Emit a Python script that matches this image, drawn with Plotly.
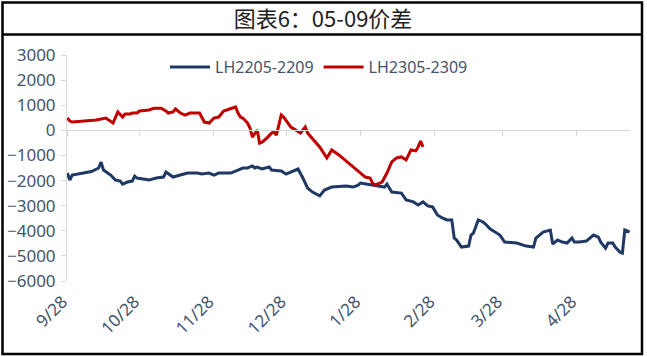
import plotly.graph_objects as go
import pandas as pd

# ---------------- data ----------------
blue_name = "LH2205-2209"
blue_dates = [
    "2021-09-28", "2021-09-29", "2021-09-30", "2021-10-08", "2021-10-11", "2021-10-12",
    "2021-10-13", "2021-10-16", "2021-10-18", "2021-10-20", "2021-10-21", "2021-10-23",
    "2021-10-25", "2021-10-26", "2021-10-27", "2021-10-30", "2021-11-01", "2021-11-04",
    "2021-11-07", "2021-11-08", "2021-11-10", "2021-11-11", "2021-11-14", "2021-11-17",
    "2021-11-21", "2021-11-23", "2021-11-26", "2021-11-28", "2021-11-30", "2021-12-05",
    "2021-12-08", "2021-12-10", "2021-12-12", "2021-12-14", "2021-12-15", "2021-12-16",
    "2021-12-18", "2021-12-21", "2021-12-22", "2021-12-26", "2021-12-28", "2021-12-30",
    "2022-01-02", "2022-01-04", "2022-01-06", "2022-01-08", "2022-01-11", "2022-01-13",
    "2022-01-16", "2022-01-22", "2022-01-25", "2022-01-27", "2022-01-28", "2022-02-07",
    "2022-02-08", "2022-02-10", "2022-02-14", "2022-02-16", "2022-02-19", "2022-02-21",
    "2022-02-23", "2022-02-25", "2022-02-27", "2022-03-01", "2022-03-03", "2022-03-05",
    "2022-03-07", "2022-03-08", "2022-03-09", "2022-03-11", "2022-03-14", "2022-03-15",
    "2022-03-16", "2022-03-18", "2022-03-20", "2022-03-21", "2022-03-23", "2022-03-25",
    "2022-03-27", "2022-03-29", "2022-04-01", "2022-04-03", "2022-04-07", "2022-04-10",
    "2022-04-11", "2022-04-14", "2022-04-17", "2022-04-18", "2022-04-20", "2022-04-22",
    "2022-04-24", "2022-04-26", "2022-04-27", "2022-04-29", "2022-05-02", "2022-05-05",
    "2022-05-07", "2022-05-08", "2022-05-10", "2022-05-11", "2022-05-13", "2022-05-14",
    "2022-05-16", "2022-05-17", "2022-05-18", "2022-05-20",
]
blue_values = [
    -1700, -1980, -1780, -1640, -1500, -1260,
    -1580, -1780, -1980, -2020, -2140, -2060,
    -2020, -1820, -1900, -1940, -1980, -1900,
    -1860, -1660, -1780, -1860, -1780, -1700,
    -1700, -1740, -1700, -1780, -1700, -1700,
    -1580, -1500, -1500, -1420, -1500, -1460,
    -1540, -1460, -1580, -1620, -1740, -1660,
    -1540, -1900, -2300, -2460, -2610, -2380,
    -2260, -2220, -2260, -2180, -2100, -2260,
    -2140, -2460, -2500, -2770, -2850, -2970,
    -2850, -3010, -3050, -3370, -3490, -3570,
    -3570, -4290, -4370, -4650, -4610, -4170,
    -4090, -3570, -3650, -3730, -3930, -4050,
    -4170, -4450, -4490, -4490, -4610, -4650,
    -4290, -4050, -3970, -4530, -4370, -4450,
    -4490, -4290, -4450, -4450, -4410, -4170,
    -4250, -4450, -4690, -4490, -4490, -4650,
    -4850, -4890, -3970, -4050,
]

red_name = "LH2305-2309"
red_dates = [
    "2022-09-28", "2022-09-29", "2022-09-30", "2022-10-10", "2022-10-14", "2022-10-17",
    "2022-10-19", "2022-10-21", "2022-10-22", "2022-10-24", "2022-10-25", "2022-10-27",
    "2022-10-28", "2022-11-01", "2022-11-03", "2022-11-06", "2022-11-08", "2022-11-09",
    "2022-11-11", "2022-11-12", "2022-11-14", "2022-11-16", "2022-11-18", "2022-11-22",
    "2022-11-24", "2022-11-26", "2022-11-28", "2022-11-30", "2022-12-02", "2022-12-05",
    "2022-12-07", "2022-12-08", "2022-12-09", "2022-12-10", "2022-12-12", "2022-12-13",
    "2022-12-14", "2022-12-16", "2022-12-17", "2022-12-18", "2022-12-20", "2022-12-22",
    "2022-12-23", "2022-12-24", "2022-12-26", "2022-12-27", "2022-12-30", "2023-01-01",
    "2023-01-03", "2023-01-05", "2023-01-06", "2023-01-11", "2023-01-14", "2023-01-16",
    "2023-01-19", "2023-01-30", "2023-02-01", "2023-02-02", "2023-02-03", "2023-02-06",
    "2023-02-08", "2023-02-10", "2023-02-12", "2023-02-14", "2023-02-16", "2023-02-18",
    "2023-02-20", "2023-02-21", "2023-02-22", "2023-02-23",
]
red_values = [
    490, 370, 330, 410, 490, 290,
    730, 530, 650, 650, 690, 690,
    770, 810, 880, 880, 770, 690,
    730, 850, 690, 610, 690, 690,
    330, 290, 490, 530, 770, 880,
    930, 690, 530, 490, 290, 90,
    -270, 10, -510, -470, -310, -110,
    -70, -190, 610, 530, 130, 10,
    -110, 130, -110, -660, -1100, -780,
    -980, -1860, -1900, -2100, -2180, -2060,
    -1700, -1260, -1100, -1060, -1180, -780,
    -820, -660, -430, -660,
]

tick_dates = ["2021-09-28", "2021-10-28", "2021-11-28", "2021-12-28",
              "2022-01-28", "2022-02-28", "2022-03-28", "2022-04-28"]
tick_labels = ["9/28", "10/28", "11/28", "12/28", "1/28", "2/28", "3/28", "4/28"]
y_ticks = [3000, 2000, 1000, 0, -1000, -2000, -3000, -4000, -5000, -6000]
title_text = "图表6：05-09价差"

# --------------- figure ---------------
W, H = 647, 357
PL, PR, PT, PB = 67, 630, 55, 281       # plot area on screen
ML, MT = PL, PT
MR, MB = W - PR, H - PB
PW, PH = W - ML - MR, H - MT - MB
y_min, y_max = -6000, 3000

# the newer season is shown on the same month/day axis as the older one
red_x = pd.to_datetime(red_dates) - pd.DateOffset(years=1)
blue_x = pd.to_datetime(blue_dates)

fig = go.Figure()
fig.add_trace(go.Scatter(x=blue_x, y=blue_values, mode="lines", name=blue_name,
                         line=dict(color="#1F3864", width=3)))
fig.add_trace(go.Scatter(x=red_x, y=red_values, mode="lines", name=red_name,
                         line=dict(color="#C00000", width=3)))

font_family = "Noto Sans, Open Sans, sans-serif"
legend_font = dict(family=font_family, size=16, color="#44546A")
ytick_font = dict(family=font_family, size=17, color="#44546A")
xtick_font = dict(family=font_family, size=17, color="#44546A")

def px_x(p):
    return (p - ML) / PW

def px_y(p):
    return 1 - (p - MT) / PH

border = dict(color="#000000", width=2.5)
shapes = [
    dict(type="rect", xref="paper", yref="paper",
         x0=px_x(2.5), x1=px_x(642), y0=px_y(2.5), y1=px_y(354), line=border),
    dict(type="line", xref="paper", yref="paper",
         x0=px_x(2.5), x1=px_x(642), y0=px_y(34.5), y1=px_y(34.5), line=border),
]

fig.update_layout(
    width=W, height=H,
    margin=dict(l=ML, r=MR, t=MT, b=MB, autoexpand=False),
    paper_bgcolor="white", plot_bgcolor="white",
    showlegend=True,
    title=dict(text=title_text, x=323 / W, xref="container", xanchor="center",
               y=1 - 19 / H, yref="container", yanchor="middle",
               font=dict(family="Noto Sans CJK SC", size=22, color="#222222")),
    legend=dict(orientation="h", x=319 / W, xanchor="center", xref="container",
                y=1 - 67 / H, yanchor="middle", yref="container",
                font=legend_font, bgcolor="rgba(0,0,0,0)", itemwidth=40,
                tracegroupgap=0),
    shapes=shapes,
    xaxis=dict(type="date", range=["2021-09-27 20:00", "2022-05-20 04:00"],
               tickvals=tick_dates, ticktext=tick_labels, tickangle=-45,
               anchor="free", position=(0 - y_min) / (y_max - y_min),
               showline=True, linecolor="#D9D9D9", linewidth=1,
               ticks="outside", ticklen=5, tickcolor="#D9D9D9",
               ticklabelstandoff=149, ticklabelshift=-5,
               showgrid=False, zeroline=False,
               automargin=False, tickfont=xtick_font),
    yaxis=dict(range=[y_min, y_max], tickvals=y_ticks,
               showline=True, linecolor="#D9D9D9", linewidth=1,
               ticks="outside", ticklen=5, tickcolor="#D9D9D9",
               showgrid=False, zeroline=False, tickfont=ytick_font,
               automargin=False, ticklabelstandoff=2),
)

fig.write_html("out.html", config={"displayModeBar": False},
               post_script="document.body.style.margin='0px';")
